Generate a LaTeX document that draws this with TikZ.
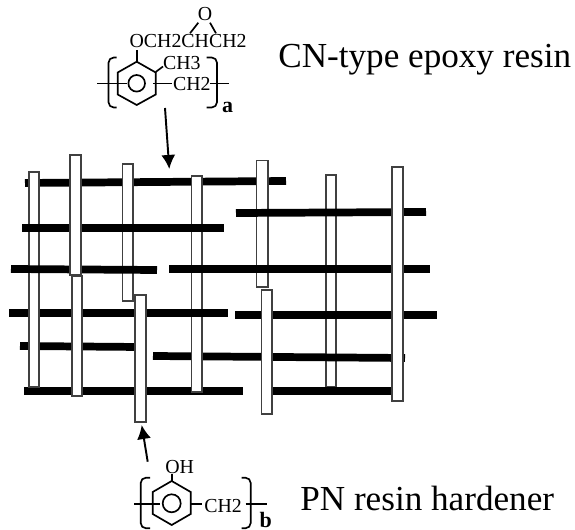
\documentclass[tikz,border=0pt]{standalone}
\usepackage{fontspec}
\setmainfont{Liberation Serif}
\usepackage{tikz}
\usetikzlibrary{calc, arrows.meta, shapes}
\tikzset{>=latex}
\tikzset{chain/.style = {line width = 4.4pt, black},
  hardener/.style = {draw = black!75, fill = white, line width = 0.85pt},
  bond/.style = {line width = 0.95pt},
  bracket/.style = {line width = 0.95pt, rounded corners = 3pt},
  chem/.style = {anchor = base west, inner sep = 0pt, font = \fontsize{11.3}{12}\selectfont},
  chemindex/.style = {anchor = base west, inner sep = 0pt, font = \fontsize{12.5}{13}\selectfont\bfseries},
  caption/.style = {anchor = base west, inner sep = 0pt, font = \fontsize{20}{22}\selectfont},
  pointer/.style = {line width = 1.1pt, -{Latex[length = 8pt, width = 8pt]}}}

\begin{document}
\begin{tikzpicture}[x = 0.02cm, y = -0.02cm]
\useasboundingbox (0, 0) rectangle (575, 530);
% network, back to front
\draw[hardener] (326, 175) rectangle (336, 387);
\draw[chain] (25, 183) -- (286, 181);
\draw[chain] (20, 346) -- (140, 347);
\draw[chain] (24, 391) -- (243, 391);
\draw[chain] (153, 356) -- (405, 358);
\draw[chain] (265, 391) -- (400, 391);
\draw[chain] (235, 315) -- (437, 315);
\draw[hardener] (191.5, 176) rectangle (202, 392);
\draw[chain] (9, 313) -- (228, 313);
\draw[hardener] (122.5, 164) rectangle (133, 301);
\draw[hardener] (256.5, 160.5) rectangle (268, 287);
\draw[hardener] (29, 172) rectangle (39, 387);
\draw[chain] (22, 228) -- (224, 228);
\draw[chain] (236, 213) -- (426, 212);
\draw[chain] (11, 269) -- (157, 270);
\draw[chain] (169, 269) -- (430, 269);
\draw[hardener] (72, 276) rectangle (82, 396);
\draw[hardener] (70, 155) rectangle (81, 275);
\draw[hardener] (135, 295) rectangle (146, 422);
\draw[hardener] (261.5, 290) rectangle (272, 414);
\draw[hardener] (392, 167) rectangle (403, 401);
% CN unit
\draw[bond] (136.7, 61.7) -- (155.7, 72.5) -- (155.7, 94.5) -- (136.7, 105) -- (117.7, 94.5) -- (117.7, 72.5) -- cycle;
\draw[bond] (136.7, 83.3) circle (8.3);
\draw[bond] (136.7, 61.7) -- (136.7, 50);
\draw[bond] (155.7, 72) -- (163, 66.5);
\draw[bond] (97.3, 83.5) -- (126.7, 83.5);
\draw[bond] (153, 83.5) -- (172, 83.5);
\draw[bond] (210, 83.5) -- (229.3, 83.5);
\draw[bond] (198.3, 22.7) -- (190, 33.3);
\draw[bond] (210, 22.7) -- (216, 33.3);
\draw[bracket] (116.7, 57.5) -- (108.5, 57.5) -- (108.5, 107.5) -- (116.7, 107.5);
\draw[bracket] (206.7, 57.5) -- (217, 57.5) -- (217, 107.5) -- (206.7, 107.5);
\node[chem] (cnoxygen) at (197.5, 21) {O};
\node[chem] (cnether) at (129.3, 48) {OCH2CHCH2};
\node[chem] (cnmethyl) at (162.7, 70) {CH3};
\node[chem] (cnmethylene) at (172.7, 90.7) {CH2};
\node[chemindex] (cnindex) at (221.7, 113) {a};
\node[caption] (cnlabel) at (278, 67.3) {CN-type epoxy resin};
% PN unit
\draw[bond] (171.7, 481) -- (190.7, 492) -- (190.7, 514) -- (171.7, 525) -- (152.7, 514) -- (152.7, 492) -- cycle;
\draw[bond] (171.7, 503.3) circle (9);
\draw[bond] (171.7, 474) -- (171.7, 481);
\draw[bond] (134.3, 504) -- (160, 504);
\draw[bond] (190, 504) -- (201.7, 504);
\draw[bond] (245.7, 504) -- (266.7, 504);
\draw[bracket] (150, 477.7) -- (140.7, 477.7) -- (140.7, 528.3) -- (150, 528.3);
\draw[bracket] (241.7, 477.7) -- (250.7, 477.7) -- (250.7, 528.3) -- (241.7, 528.3);
\node[chem] (pnhydroxyl) at (165, 473.3) {OH};
\node[chem] (pnmethylene) at (204, 512.3) {CH2};
\node[chemindex] (pnindex) at (259.3, 527.5) {b};
\node[caption] (pnlabel) at (300, 510.7) {PN resin hardener};
% pointers
\coordinate (cntail) at (165, 108);
\coordinate (cntip) at (169.3, 169);
\coordinate (pntail) at (147.7, 461.7);
\coordinate (pntip) at (141.7, 425);
\draw[pointer] (cntail) -- (cntip);
\draw[pointer] (pntail) -- (pntip);
\end{tikzpicture}
\end{document}
